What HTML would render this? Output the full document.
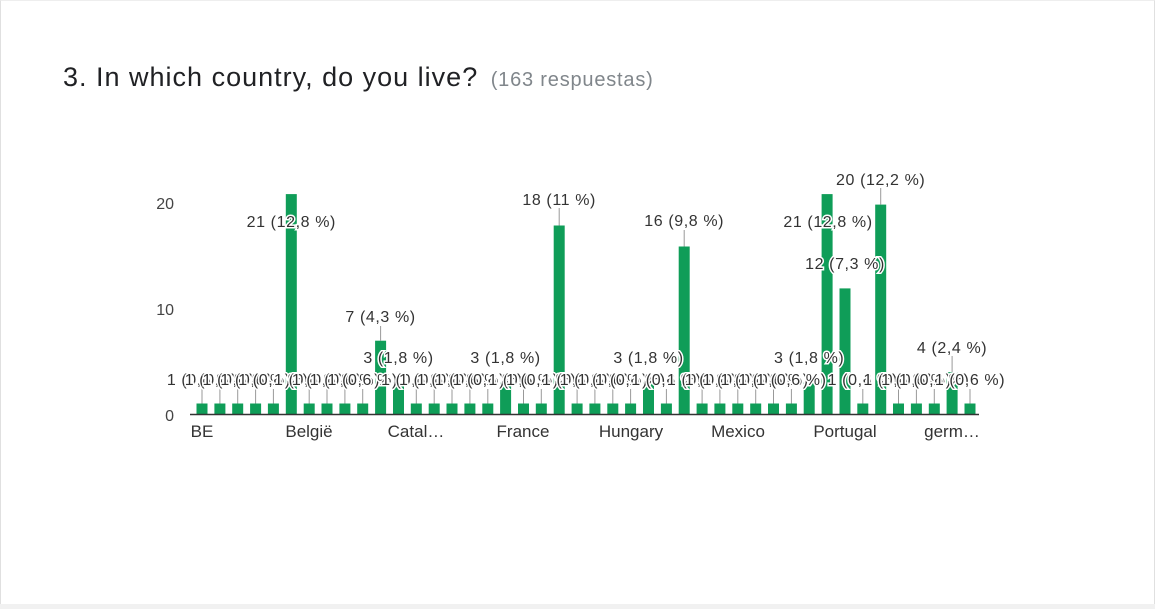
<!DOCTYPE html>
<html><head><meta charset="utf-8"><style>
html,body{margin:0;padding:0;background:#fff;}
body{width:1155px;height:609px;overflow:hidden;position:relative;font-family:"Liberation Sans",Arial,sans-serif;}
.frame{position:absolute;left:0;top:0;width:1153px;height:605px;border:1px solid #e0e0e0;border-top:1px solid #eee;}
.bottom{position:absolute;left:0;top:604px;width:1155px;height:5px;background:#f1f1f1;}
.title{position:absolute;left:63px;top:62px;font-size:27px;letter-spacing:1px;color:#202124;white-space:nowrap;}
.title span{font-size:20px;letter-spacing:0.8px;color:#80868b;margin-left:4px;}
svg{position:absolute;left:0;top:0;}
.l{font-size:16px;letter-spacing:0.6px;fill:#333;stroke:#fff;stroke-width:3px;paint-order:stroke;text-anchor:middle;}
</style></head><body>
<div class="frame"></div><div class="bottom"></div>
<div class="title">3. In which country, do you live? <span>(163 respuestas)</span></div>
<svg width="1155" height="609" font-family="Liberation Sans, Arial, sans-serif">
<g fill="#444" font-size="16" text-anchor="end">
<text x="174" y="421">0</text><text x="174" y="315">10</text><text x="174" y="209">20</text>
</g>
<g fill="#0f9d58">
<rect x="196.5" y="403.5" width="11" height="10.5"/>
<rect x="214.4" y="403.5" width="11" height="10.5"/>
<rect x="232.2" y="403.5" width="11" height="10.5"/>
<rect x="250.1" y="403.5" width="11" height="10.5"/>
<rect x="267.9" y="403.5" width="11" height="10.5"/>
<rect x="285.8" y="194.1" width="11" height="219.9"/>
<rect x="303.7" y="403.5" width="11" height="10.5"/>
<rect x="321.5" y="403.5" width="11" height="10.5"/>
<rect x="339.4" y="403.5" width="11" height="10.5"/>
<rect x="357.2" y="403.5" width="11" height="10.5"/>
<rect x="375.1" y="340.7" width="11" height="73.3"/>
<rect x="393.0" y="382.6" width="11" height="31.4"/>
<rect x="410.8" y="403.5" width="11" height="10.5"/>
<rect x="428.7" y="403.5" width="11" height="10.5"/>
<rect x="446.5" y="403.5" width="11" height="10.5"/>
<rect x="464.4" y="403.5" width="11" height="10.5"/>
<rect x="482.3" y="403.5" width="11" height="10.5"/>
<rect x="500.1" y="382.6" width="11" height="31.4"/>
<rect x="518.0" y="403.5" width="11" height="10.5"/>
<rect x="535.8" y="403.5" width="11" height="10.5"/>
<rect x="553.7" y="225.5" width="11" height="188.5"/>
<rect x="571.6" y="403.5" width="11" height="10.5"/>
<rect x="589.4" y="403.5" width="11" height="10.5"/>
<rect x="607.3" y="403.5" width="11" height="10.5"/>
<rect x="625.1" y="403.5" width="11" height="10.5"/>
<rect x="643.0" y="382.6" width="11" height="31.4"/>
<rect x="660.9" y="403.5" width="11" height="10.5"/>
<rect x="678.7" y="246.5" width="11" height="167.5"/>
<rect x="696.6" y="403.5" width="11" height="10.5"/>
<rect x="714.4" y="403.5" width="11" height="10.5"/>
<rect x="732.3" y="403.5" width="11" height="10.5"/>
<rect x="750.2" y="403.5" width="11" height="10.5"/>
<rect x="768.0" y="403.5" width="11" height="10.5"/>
<rect x="785.9" y="403.5" width="11" height="10.5"/>
<rect x="803.7" y="382.6" width="11" height="31.4"/>
<rect x="821.6" y="194.1" width="11" height="219.9"/>
<rect x="839.5" y="288.4" width="11" height="125.6"/>
<rect x="857.3" y="403.5" width="11" height="10.5"/>
<rect x="875.2" y="204.6" width="11" height="209.4"/>
<rect x="893.0" y="403.5" width="11" height="10.5"/>
<rect x="910.9" y="403.5" width="11" height="10.5"/>
<rect x="928.8" y="403.5" width="11" height="10.5"/>
<rect x="946.6" y="372.1" width="11" height="41.9"/>
<rect x="964.5" y="403.5" width="11" height="10.5"/>
</g>
<line x1="190" y1="414.5" x2="979" y2="414.5" stroke="#333" stroke-width="1.5"/>
<g stroke="#999" stroke-width="1">
<line x1="202" y1="389" x2="202" y2="403.5"/><line x1="219.9" y1="389" x2="219.9" y2="403.5"/><line x1="237.7" y1="389" x2="237.7" y2="403.5"/><line x1="255.6" y1="389" x2="255.6" y2="403.5"/><line x1="273.4" y1="389" x2="273.4" y2="403.5"/>
<line x1="309.2" y1="389" x2="309.2" y2="403.5"/><line x1="327" y1="389" x2="327" y2="403.5"/><line x1="344.9" y1="389" x2="344.9" y2="403.5"/><line x1="362.7" y1="389" x2="362.7" y2="403.5"/>
<line x1="380.6" y1="326" x2="380.6" y2="340.7"/>
<line x1="416.3" y1="389" x2="416.3" y2="403.5"/><line x1="434.2" y1="389" x2="434.2" y2="403.5"/><line x1="452" y1="389" x2="452" y2="403.5"/><line x1="469.9" y1="389" x2="469.9" y2="403.5"/><line x1="487.8" y1="389" x2="487.8" y2="403.5"/>
<line x1="523.5" y1="389" x2="523.5" y2="403.5"/><line x1="541.3" y1="389" x2="541.3" y2="403.5"/>
<line x1="559.2" y1="208" x2="559.2" y2="225.5"/>
<line x1="577.1" y1="389" x2="577.1" y2="403.5"/><line x1="594.9" y1="389" x2="594.9" y2="403.5"/><line x1="612.8" y1="389" x2="612.8" y2="403.5"/><line x1="630.6" y1="389" x2="630.6" y2="403.5"/><line x1="666.4" y1="389" x2="666.4" y2="403.5"/>
<line x1="684.2" y1="230" x2="684.2" y2="246.5"/>
<line x1="702.1" y1="389" x2="702.1" y2="403.5"/><line x1="719.9" y1="389" x2="719.9" y2="403.5"/><line x1="737.8" y1="389" x2="737.8" y2="403.5"/><line x1="755.7" y1="389" x2="755.7" y2="403.5"/><line x1="773.5" y1="389" x2="773.5" y2="403.5"/><line x1="791.4" y1="389" x2="791.4" y2="403.5"/>
<line x1="862.8" y1="389" x2="862.8" y2="403.5"/>
<line x1="880.7" y1="188" x2="880.7" y2="204.6"/>
<line x1="898.5" y1="389" x2="898.5" y2="403.5"/><line x1="916.4" y1="389" x2="916.4" y2="403.5"/><line x1="934.3" y1="389" x2="934.3" y2="403.5"/>
<line x1="952.1" y1="356" x2="952.1" y2="372.1"/><line x1="970" y1="389" x2="970" y2="403.5"/>
</g>
<g>
<text class="l" x="202" y="385">1 (0,6 %)</text>
<text class="l" x="219.9" y="385">1 (0,6 %)</text>
<text class="l" x="237.7" y="385">1 (0,6 %)</text>
<text class="l" x="255.6" y="385">1 (0,6 %)</text>
<text class="l" x="273.4" y="385">1 (0,6 %)</text>
<text class="l" x="291.3" y="227">21 (12,8 %)</text>
<text class="l" x="309.2" y="385">1 (0,6 %)</text>
<text class="l" x="327" y="385">1 (0,6 %)</text>
<text class="l" x="344.9" y="385">1 (0,6 %)</text>
<text class="l" x="362.7" y="385">1 (0,6 %)</text>
<text class="l" x="380.6" y="322">7 (4,3 %)</text>
<text class="l" x="398.5" y="363">3 (1,8 %)</text>
<text class="l" x="416.3" y="385">1 (0,6 %)</text>
<text class="l" x="434.2" y="385">1 (0,6 %)</text>
<text class="l" x="452" y="385">1 (0,6 %)</text>
<text class="l" x="469.9" y="385">1 (0,6 %)</text>
<text class="l" x="487.8" y="385">1 (0,6 %)</text>
<text class="l" x="505.6" y="363">3 (1,8 %)</text>
<text class="l" x="523.5" y="385">1 (0,6 %)</text>
<text class="l" x="541.3" y="385">1 (0,6 %)</text>
<text class="l" x="559.2" y="205">18 (11 %)</text>
<text class="l" x="577.1" y="385">1 (0,6 %)</text>
<text class="l" x="594.9" y="385">1 (0,6 %)</text>
<text class="l" x="612.8" y="385">1 (0,6 %)</text>
<text class="l" x="630.6" y="385">1 (0,6 %)</text>
<text class="l" x="648.5" y="363">3 (1,8 %)</text>
<text class="l" x="666.4" y="385">1 (0,6 %)</text>
<text class="l" x="684.2" y="226">16 (9,8 %)</text>
<text class="l" x="702.1" y="385">1 (0,6 %)</text>
<text class="l" x="719.9" y="385">1 (0,6 %)</text>
<text class="l" x="737.8" y="385">1 (0,6 %)</text>
<text class="l" x="755.7" y="385">1 (0,6 %)</text>
<text class="l" x="773.5" y="385">1 (0,6 %)</text>
<text class="l" x="791.4" y="385">1 (0,6 %)</text>
<text class="l" x="809.2" y="363">3 (1,8 %)</text>
<text class="l" x="828" y="227">21 (12,8 %)</text>
<text class="l" x="845" y="269">12 (7,3 %)</text>
<text class="l" x="862.8" y="385">1 (0,6 %)</text>
<text class="l" x="880.7" y="185">20 (12,2 %)</text>
<text class="l" x="898.5" y="385">1 (0,6 %)</text>
<text class="l" x="916.4" y="385">1 (0,6 %)</text>
<text class="l" x="934.3" y="385">1 (0,6 %)</text>
<text class="l" x="952.1" y="353">4 (2,4 %)</text>
<text class="l" x="970" y="385">1 (0,6 %)</text>
</g>
<g fill="#333" font-size="17" text-anchor="middle">
<text x="202" y="437">BE</text>
<text x="309" y="437">België</text>
<text x="416" y="437">Catal…</text>
<text x="523" y="437">France</text>
<text x="631" y="437">Hungary</text>
<text x="738" y="437">Mexico</text>
<text x="845" y="437">Portugal</text>
<text x="952" y="437">germ…</text>
</g>
</svg>
</body></html>
